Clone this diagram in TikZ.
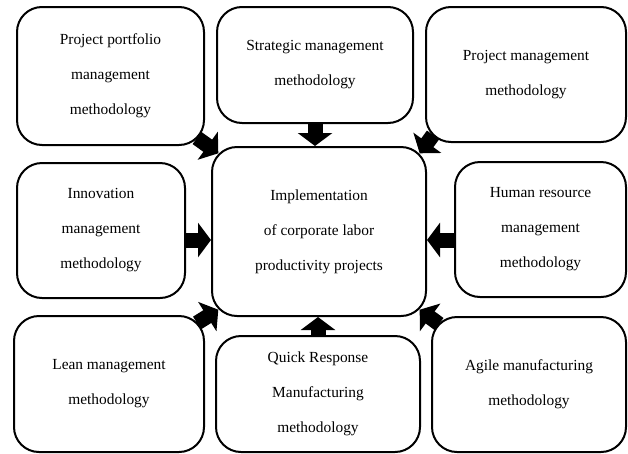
\documentclass[tikz,border=0pt]{standalone}
\usepackage{fontspec}
\setmainfont{Liberation Serif}
\usetikzlibrary{arrows.meta,calc,backgrounds}

\tikzset{
  method/.style={draw,fill=white,line width=2pt,rounded corners=25pt,
    align=center,inner sep=0pt,font=\fontsize{15.4}{35}\selectfont},
  push/.style={line width=15pt,-{Triangle[width=34pt,length=13pt]}}
}

\begin{document}
\begin{tikzpicture}[x=1pt,y=-1pt]
  \useasboundingbox (0,0) rectangle (628,453);
  % outer methodologies
  \node[method,minimum width=187pt,minimum height=138pt] (ppm) at (110.5,76)
    {Project portfolio\\management\\methodology};
  \node[method,minimum width=196pt,minimum height=116pt] (strat) at (315,65)
    {Strategic management\\methodology};
  \node[method,minimum width=200pt,minimum height=135pt] (pm) at (526,74.5)
    {Project management\\methodology};
  \node[method,minimum width=168pt,minimum height=135pt] (innov) at (101,230.5)
    {Innovation\\management\\methodology};
  \node[method,minimum width=171pt,minimum height=135pt] (hr) at (540.5,229.5)
    {Human resource\\management\\methodology};
  \node[method,minimum width=190pt,minimum height=136pt] (lean) at (109,384)
    {Lean management\\methodology};
  \node[method,minimum width=204pt,minimum height=116pt] (qrm) at (318,394)
    {Quick Response\\Manufacturing\\methodology};
  \node[method,minimum width=194pt,minimum height=135pt] (agile) at (529,384.5)
    {Agile manufacturing\\methodology};
  % centre
  \node[method,minimum width=214pt,minimum height=169pt] (impl) at (319,231.5)
    {Implementation\\of corporate labor\\productivity projects};

  \begin{scope}[on background layer]
    \draw[push] (strat.south) -- (strat.south |- impl.north);
    \draw[push] (qrm.north) -- (qrm.north |- impl.south);
    \draw[push] ([yshift=-9.5pt]innov.east) -- ([yshift=-9.5pt]innov.east -| impl.west);
    \draw[push] ([yshift=-10.5pt]hr.west) -- ([yshift=-10.5pt]hr.west -| impl.east);
    \draw[push] ($(ppm.south east)+(-8,-8)$) -- ($(impl.north west)+(7.3,7.3)$);
    \draw[push] ($(pm.south west)+(8,-8)$) -- ($(impl.north east)+(-7.3,7.3)$);
    \draw[push] ($(lean.north east)+(-8,8)$) -- ($(impl.south west)+(7.3,-7.3)$);
    \draw[push] ($(agile.north west)+(8,8)$) -- ($(impl.south east)+(-7.3,-7.3)$);
  \end{scope}
\end{tikzpicture}
\end{document}
